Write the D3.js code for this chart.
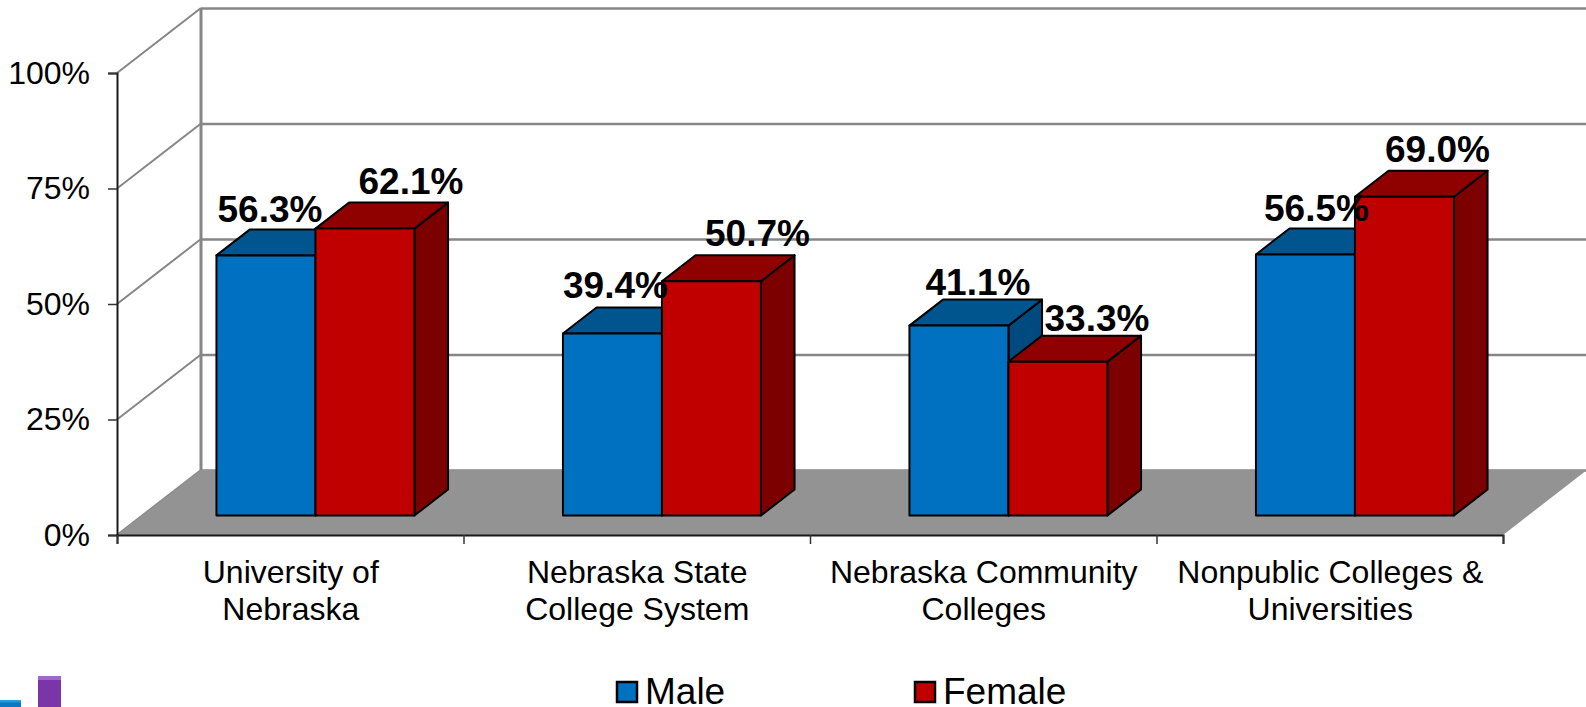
<!DOCTYPE html>
<html>
<head>
<meta charset="utf-8">
<script src="https://cdn.jsdelivr.net/npm/d3@7"></script>
<style>
  html, body { margin: 0; padding: 0; background: #fff; }
  svg { display: block; font-family: "Liberation Sans", Arial, sans-serif; }
</style>
</head>
<body>
<svg width="1586" height="707"></svg>
<script>
// values
const categories = [
  ["University of", "Nebraska"],
  ["Nebraska State", "College System"],
  ["Nebraska Community", "Colleges"],
  ["Nonpublic Colleges &", "Universities"],
];
const seriesNames = ["Male", "Female"];
const maleValues = [56.3, 39.4, 41.1, 56.5];
const femaleValues = [62.1, 50.7, 33.3, 69.0];
const yTicks = [0, 25, 50, 75, 100];

// data labels were hand placed in the original, nudges from the bar's front top centre
const maleLabelNudge = [[4, -33], [3, -35], [19, -31], [11, -33]];
const femaleLabelNudge = [[46, -35], [46, -35], [39, -31], [33, -35]];

const seriesValues = [maleValues, femaleValues];
const labelNudges = [maleLabelNudge, femaleLabelNudge];
const frontColors = ["#0070c0", "#c00000"];
const topColors = ["#00558f", "#8f0000"];
const sideColors = ["#004a80", "#7c0000"];

const svg = d3.select("svg");

const x0 = 117, x1 = 1503, y0 = 535, y100 = 73;
const depthX = 84, depthY = -65; // oblique offset of the back wall
const barZ = 0.3, barDepth = 0.4; // where bars stand in the depth of the floor

const x = d3.scaleBand().domain(d3.range(categories.length)).range([x0, x1]);
const y = d3.scaleLinear().domain([0, 100]).range([y0, y100]);
const barW = 99;
const xInner = d3
  .scaleBand()
  .domain(d3.range(seriesNames.length))
  .range([(x.bandwidth() - 2 * barW) / 2, (x.bandwidth() + 2 * barW) / 2]);

const pts = (a) => a.map((p) => p.join(",")).join(" ");

// walls
const grid = svg.append("g");
grid
  .selectAll("line.back")
  .data(yTicks)
  .enter()
  .append("line")
  .attr("x1", x0 + depthX)
  .attr("x2", 1586)
  .attr("y1", (d) => y(d) + depthY + 0.5)
  .attr("y2", (d) => y(d) + depthY + 0.5)
  .attr("stroke", "#868686")
  .attr("stroke-width", 2.5);
grid
  .selectAll("line.side")
  .data(yTicks)
  .enter()
  .append("line")
  .attr("x1", x0)
  .attr("y1", (d) => y(d))
  .attr("x2", x0 + depthX)
  .attr("y2", (d) => y(d) + depthY)
  .attr("stroke", "#868686")
  .attr("stroke-width", 2);
grid
  .append("line")
  .attr("x1", x0 + depthX)
  .attr("x2", x0 + depthX)
  .attr("y1", y(100) + depthY)
  .attr("y2", y(0) + depthY)
  .attr("stroke", "#868686")
  .attr("stroke-width", 3);

// floor
svg
  .append("polygon")
  .attr(
    "points",
    pts([
      [x0, y0],
      [x0 + depthX, y0 + depthY],
      [x1 + depthX, y0 + depthY],
      [x1, y0],
    ])
  )
  .attr("fill", "#939393");

// bars, male first so the female front covers its side
const bars = svg.append("g");
seriesNames.forEach(function (name, s) {
  categories.forEach(function (c, i) {
    const v = seriesValues[s][i];
    const left = x(i) + xInner(s) + depthX * barZ;
    const right = left + xInner.bandwidth();
    const bottom = y(0) + depthY * barZ;
    const top = bottom - (y(0) - y(v));
    const dx = depthX * barDepth;
    const dy = depthY * barDepth;
    const g = bars.append("g").attr("stroke", "#000").attr("stroke-width", 2).attr("stroke-linejoin", "round");
    g.append("polygon")
      .attr("points", pts([[right, top], [right + dx, top + dy], [right + dx, bottom + dy], [right, bottom]]))
      .attr("fill", sideColors[s]);
    g.append("polygon")
      .attr("points", pts([[left, top], [left + dx, top + dy], [right + dx, top + dy], [right, top]]))
      .attr("fill", topColors[s]);
    g.append("rect")
      .attr("x", left)
      .attr("y", top)
      .attr("width", right - left)
      .attr("height", bottom - top)
      .attr("fill", frontColors[s]);
  });
});

// axes
const yAxis = svg
  .append("g")
  .attr("transform", `translate(${x0},0)`)
  .call(
    d3.axisLeft(y).tickValues(yTicks).tickSize(9).tickPadding(18).tickFormat((d) => d + "%")
  );
const xAxis = svg
  .append("g")
  .attr("transform", `translate(0,${y0})`)
  .call(
    d3
      .axisBottom(d3.scaleLinear().domain([0, categories.length]).range([x0, x1]))
      .tickValues(d3.range(categories.length + 1))
      .tickSize(9)
      .tickFormat("")
  );
[yAxis, xAxis].forEach(function (a) {
  a.selectAll(".domain").attr("stroke", "#1a1a1a").attr("stroke-width", 2);
  a.selectAll(".tick line").attr("stroke", "#333").attr("stroke-width", 1.5);
});
yAxis
  .selectAll("text")
  .attr("font-family", "Liberation Sans")
  .attr("font-size", 32)
  .attr("fill", "#000");

// category labels
const catText = svg
  .append("g")
  .selectAll("text")
  .data(categories)
  .enter()
  .append("text")
  .attr("text-anchor", "middle")
  .attr("font-size", 32)
  .attr("fill", "#000");
catText
  .selectAll("tspan")
  .data((d, i) => d.map((t) => ({ t: t, i: i })))
  .enter()
  .append("tspan")
  .attr("x", (d) => x(d.i) + x.bandwidth() / 2 + 0.5)
  .attr("y", (d, j) => 583 + j * 37)
  .text((d) => d.t);

// data labels on top of everything
seriesNames.forEach(function (name, s) {
  svg
    .append("g")
    .selectAll("text")
    .data(seriesValues[s])
    .enter()
    .append("text")
    .attr("x", (d, i) => x(i) + xInner(s) + depthX * barZ + xInner.bandwidth() / 2 + labelNudges[s][i][0])
    .attr("y", (d, i) => y(d) + depthY * barZ + labelNudges[s][i][1])
    .attr("text-anchor", "middle")
    .attr("font-size", 37)
    .attr("font-weight", "bold")
    .attr("fill", "#000")
    .text((d) => d.toFixed(1) + "%");
});

// legend
const legendX = d3.scaleOrdinal().domain(seriesNames).range([617, 915]);
const legend = svg
  .append("g")
  .selectAll("g")
  .data(seriesNames)
  .enter()
  .append("g")
  .attr("transform", (d) => `translate(${legendX(d)},682)`);
legend
  .append("rect")
  .attr("width", 20)
  .attr("height", 20)
  .attr("fill", (d, i) => frontColors[i])
  .attr("stroke", "#000")
  .attr("stroke-width", 2.5);
legend
  .append("text")
  .attr("x", 28)
  .attr("y", 22)
  .attr("font-size", 37)
  .attr("fill", "#000")
  .text((d) => d);

// bits of a slide logo cut off in the bottom left corner
const defs = svg.append("defs");
const blueGrad = defs.append("linearGradient").attr("id", "logoBlue").attr("x2", 0).attr("y2", 1);
blueGrad.append("stop").attr("offset", 0).attr("stop-color", "#35a5e8");
blueGrad.append("stop").attr("offset", 0.5).attr("stop-color", "#0c78c4");
const logo = svg.append("g");
logo.append("rect").attr("x", 0).attr("y", 700).attr("width", 21).attr("height", 7).attr("fill", "url(#logoBlue)");
logo.append("rect").attr("x", 38).attr("y", 676).attr("width", 23).attr("height", 31).attr("fill", "#7a35a8");
logo.append("rect").attr("x", 38).attr("y", 676).attr("width", 23).attr("height", 4).attr("fill", "#a066c8");
</script>
</body>
</html>
